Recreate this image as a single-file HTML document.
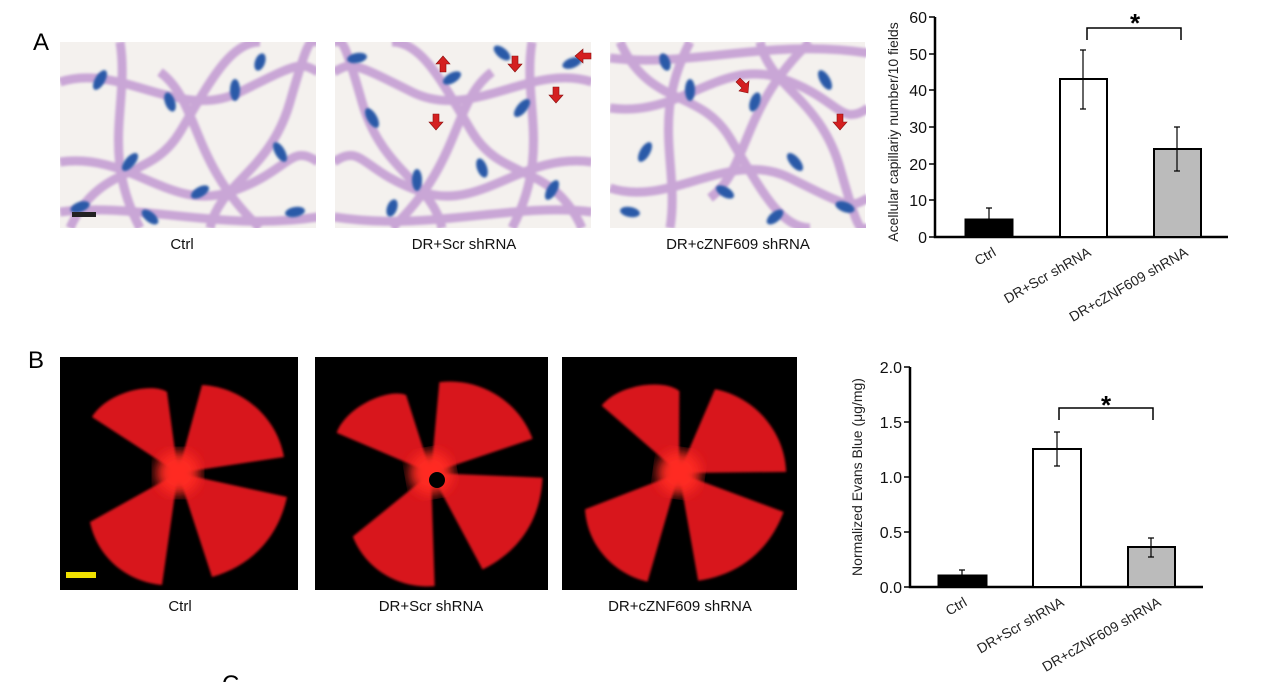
<!DOCTYPE html>
<html><head><meta charset="utf-8"><style>
body{margin:0;background:#fff;width:1269px;height:682px;overflow:hidden;font-family:"Liberation Sans",sans-serif}
svg{position:absolute;left:0;top:0}
</style></head><body>
<svg width="1269" height="682" viewBox="0 0 1269 682" font-family="Liberation Sans, sans-serif">
<defs>
<filter id="bl"><feGaussianBlur stdDeviation="1.2"/></filter>
<filter id="bl2"><feGaussianBlur stdDeviation="6"/></filter>
<clipPath id="ca"><rect width="256" height="186"/></clipPath>
<clipPath id="cb"><rect width="233" height="233"/></clipPath>
<g id="vess" fill="none" stroke="#c9a6d6" stroke-width="9" filter="url(#bl)">
<path d="M0 40 C60 20 120 80 180 50 S240 20 258 30"/>
<path d="M10 186 C40 120 90 140 120 90 S170 0 200 0"/>
<path d="M0 120 C70 110 110 170 170 150 S230 100 258 120"/>
<path d="M60 0 C70 60 40 110 80 186"/>
<path d="M150 186 C160 140 210 130 230 60 S250 0 258 0"/>
<path d="M0 170 C80 160 160 190 258 175"/>
<path d="M100 30 C140 60 130 120 200 186"/>
</g>
<g id="nuc" fill="#2a5aa8" filter="url(#bl)">
<ellipse cx="40" cy="38" rx="5" ry="11" transform="rotate(30 40 38)"/>
<ellipse cx="110" cy="60" rx="5" ry="10" transform="rotate(-20 110 60)"/>
<ellipse cx="175" cy="48" rx="5" ry="11"/>
<ellipse cx="70" cy="120" rx="5" ry="11" transform="rotate(40 70 120)"/>
<ellipse cx="140" cy="150" rx="5" ry="10" transform="rotate(60 140 150)"/>
<ellipse cx="220" cy="110" rx="5" ry="11" transform="rotate(-30 220 110)"/>
<ellipse cx="20" cy="165" rx="5" ry="10" transform="rotate(70 20 165)"/>
<ellipse cx="235" cy="170" rx="5" ry="10" transform="rotate(80 235 170)"/>
<ellipse cx="200" cy="20" rx="5" ry="9" transform="rotate(20 200 20)"/>
<ellipse cx="90" cy="175" rx="5" ry="10" transform="rotate(-50 90 175)"/>
</g>
<g id="ret">
<path fill="#d8161b" d="M116 116 L30 60 C45 35 90 25 105 35 Z M116 116 L140 28 C180 30 215 60 222 100 Z M116 116 L225 140 C215 185 185 210 150 220 Z M116 116 L100 228 C65 225 35 200 28 165 Z" filter="url(#bl)"/>
<circle cx="116" cy="116" r="22" fill="#ff2a20" filter="url(#bl2)"/>
</g>
</defs>
<text x="33" y="50" font-size="24">A</text>
<text x="28" y="368" font-size="24">B</text>
<text x="222" y="692" font-size="24">C</text>

<g transform="translate(60,42)" clip-path="url(#ca)"><rect width="258" height="186" fill="#f4f1ee"/><use href="#vess"/><use href="#nuc"/><rect x="12" y="170" width="24" height="5" fill="#222"/></g>
<g transform="translate(335,42)" clip-path="url(#ca)"><rect width="257" height="186" fill="#f4f1ee"/><use href="#vess" transform="translate(257 0) scale(-1 1)"/><use href="#nuc" transform="translate(257 186) scale(-1 -1)"/></g>
<g transform="translate(610,42)" clip-path="url(#ca)"><rect width="255" height="186" fill="#f4f1ee"/><use href="#vess" transform="translate(0 186) scale(1 -1)"/><use href="#nuc" transform="translate(255 0) scale(-1 1)"/></g>
<g fill="#d42020" stroke="#8a1010" stroke-width="0.6">
<path d="M443 56 l-7 8 h4 v8 h6 v-8 h4z"/>
<path d="M515 72 l-7 -8 h4 v-8 h6 v8 h4z"/>
<path d="M556 103 l-7 -8 h4 v-8 h6 v8 h4z"/>
<path d="M436 130 l-7 -8 h4 v-8 h6 v8 h4z"/>
<path d="M575 56 l8 -7 v4 h8 v6 h-8 v4z"/>
<path d="M748 93 l-9 -2 l3 -3 l-6 -6 l4 -4 l6 6 l3 -3z"/>
<path d="M840 130 l-7 -8 h4 v-8 h6 v8 h4z"/>
</g>
<g font-size="15" text-anchor="middle" fill="#111">
<text x="182" y="249">Ctrl</text><text x="464" y="249">DR+Scr shRNA</text><text x="738" y="249">DR+cZNF609 shRNA</text>
<text x="180" y="611">Ctrl</text><text x="431" y="611">DR+Scr shRNA</text><text x="680" y="611">DR+cZNF609 shRNA</text>
</g>

<rect x="60" y="357" width="238" height="233" fill="#000"/>
<rect x="315" y="357" width="233" height="233" fill="#000"/>
<rect x="562" y="357" width="235" height="233" fill="#000"/>
<g transform="translate(62,357)" clip-path="url(#cb)"><use href="#ret"/></g>
<g transform="translate(315,357)" clip-path="url(#cb)"><use href="#ret" transform="rotate(-10 116 116)"/></g>
<circle cx="437" cy="480" r="8" fill="#000"/>
<g transform="translate(563,357)" clip-path="url(#cb)"><use href="#ret" transform="rotate(8 116 116)"/></g>
<rect x="66" y="572" width="30" height="6" fill="#f0e000"/>

<!-- chart A -->
<g stroke="#000" fill="none">
<path d="M935 17 V237 H1228" stroke-width="2.5"/>
<g stroke-width="1.5"><path d="M929 17h6M929 54h6M929 90h6M929 127h6M929 164h6M929 200h6M929 237h6"/></g>
<rect x="965" y="219" width="48" height="18" fill="#000"/>
<rect x="1060" y="79" width="47" height="158" fill="#fff" stroke-width="2"/>
<rect x="1154" y="149" width="47" height="88" fill="#bbb" stroke-width="2"/>
<g stroke-width="1.2"><path d="M989 208V219M986 208h6M1083 50V109M1080 50h6M1080 109h6M1177 127V171M1174 127h6M1174 171h6"/></g>
<path d="M1087 40V28H1181V40" stroke-width="1.5"/>
</g>
<text x="1135" y="32" font-size="26" text-anchor="middle" font-weight="bold">*</text>
<g font-size="16" text-anchor="end" fill="#111">
<text x="927" y="23">60</text><text x="927" y="60">50</text><text x="927" y="96">40</text><text x="927" y="133">30</text><text x="927" y="170">20</text><text x="927" y="206">10</text><text x="927" y="243">0</text>
</g>
<text transform="translate(898,132) rotate(-90)" font-size="14" text-anchor="middle" fill="#222">Acellular capillariy number/10 fields</text>
<g font-size="14" text-anchor="end" fill="#222">
<text transform="translate(997,255) rotate(-30)">Ctrl</text>
<text transform="translate(1092,255) rotate(-30)">DR+Scr shRNA</text>
<text transform="translate(1189,255) rotate(-30)">DR+cZNF609 shRNA</text>
</g>

<!-- chart B -->
<g stroke="#000" fill="none">
<path d="M910 367V587H1203" stroke-width="2.5"/>
<g stroke-width="1.5"><path d="M904 367h6M904 422h6M904 477h6M904 532h6M904 587h6"/></g>
<rect x="938" y="575" width="49" height="12" fill="#000"/>
<rect x="1033" y="449" width="48" height="138" fill="#fff" stroke-width="2"/>
<rect x="1128" y="547" width="47" height="40" fill="#bbb" stroke-width="2"/>
<g stroke-width="1.2"><path d="M962 570V575M959 570h6M1057 432V466M1054 432h6M1054 466h6M1151 538V557M1148 538h6M1148 557h6"/></g>
<path d="M1059 420V408H1153V420" stroke-width="1.5"/>
</g>
<text x="1106" y="414" font-size="26" text-anchor="middle" font-weight="bold">*</text>
<g font-size="16" text-anchor="end" fill="#111">
<text x="902" y="373">2.0</text><text x="902" y="428">1.5</text><text x="902" y="483">1.0</text><text x="902" y="538">0.5</text><text x="902" y="593">0.0</text>
</g>
<text transform="translate(862,477) rotate(-90)" font-size="14" text-anchor="middle" fill="#222">Normalized Evans Blue (μg/mg)</text>
<g font-size="14" text-anchor="end" fill="#222">
<text transform="translate(968,605) rotate(-30)">Ctrl</text>
<text transform="translate(1065,605) rotate(-30)">DR+Scr shRNA</text>
<text transform="translate(1162,605) rotate(-30)">DR+cZNF609 shRNA</text>
</g>
</svg>
</body></html>
